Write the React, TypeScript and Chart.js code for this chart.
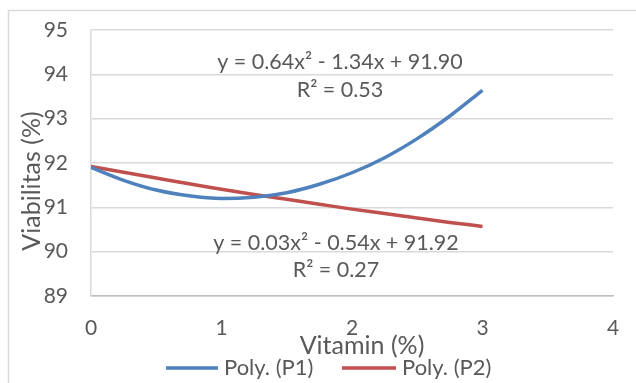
import React, { useEffect, useRef } from "react";
import { Chart, registerables } from "chart.js";

Chart.register(...registerables);

const xValues = [0, 0.25, 0.5, 0.75, 1, 1.25, 1.5, 1.75, 2, 2.25, 2.5, 2.75, 3];
const p1Values = [91.9, 91.61, 91.39, 91.26, 91.2, 91.23, 91.33, 91.52, 91.78, 92.12, 92.55, 93.06, 93.64];
const p2Values = [91.92, 91.79, 91.66, 91.53, 91.41, 91.29, 91.18, 91.07, 90.96, 90.86, 90.76, 90.66, 90.57];
const seriesNames = ["Poly. (P1)", "Poly. (P2)"];
const eq1 = ["y = 0.64x² - 1.34x + 91.90", "R² = 0.53"];
const eq2 = ["y = 0.03x² - 0.54x + 91.92", "R² = 0.27"];
const xTitle = "Vitamin (%)";
const yTitle = "Viabilitas (%)";

const FONT = "Lato, 'Open Sans', sans-serif";
const TEXT = "#595959";
const BLUE = "#4f81bd";
const RED = "#c0504d";

const overlay = {
  id: "overlay",
  afterDraw(chart: any) {
    const ctx = chart.ctx;
    ctx.save();
    ctx.strokeStyle = "#d9d9d9";
    ctx.lineWidth = 1.5;
    ctx.beginPath();
    ctx.moveTo(8.5, 383);
    ctx.lineTo(8.5, 10.5);
    ctx.lineTo(636, 10.5);
    ctx.stroke();

    ctx.fillStyle = TEXT;
    ctx.textAlign = "center";
    ctx.textBaseline = "middle";
    ctx.font = `21.5px ${FONT}`;
    ctx.fillText(eq1[0], 340, 62);
    ctx.fillText(eq1[1], 340, 90);
    ctx.fillText(eq2[0], 336, 243);
    ctx.fillText(eq2[1], 336, 270);

    ctx.font = `25px ${FONT}`;
    ctx.fillText(xTitle, 362, 346);
    ctx.save();
    ctx.translate(32, 181);
    ctx.rotate(-Math.PI / 2);
    ctx.fillText(yTitle, 0, 0);
    ctx.restore();

    ctx.font = `22px ${FONT}`;
    ctx.textAlign = "left";
    ctx.lineWidth = 3.5;
    ctx.strokeStyle = BLUE;
    ctx.beginPath();
    ctx.moveTo(166, 368);
    ctx.lineTo(218, 368);
    ctx.stroke();
    ctx.fillText(seriesNames[0], 224, 368);
    ctx.strokeStyle = RED;
    ctx.beginPath();
    ctx.moveTo(342, 368);
    ctx.lineTo(396, 368);
    ctx.stroke();
    ctx.fillText(seriesNames[1], 402, 368);
    ctx.restore();
  },
};

export default function App() {
  const ref = useRef<HTMLCanvasElement>(null);
  useEffect(() => {
    if (!ref.current) return;
    const chart = new Chart(ref.current, {
      type: "scatter",
      data: {
        datasets: [
          {
            label: seriesNames[0],
            data: xValues.map((x, i) => ({ x, y: p1Values[i] })),
            showLine: true,
            borderColor: BLUE,
            backgroundColor: BLUE,
            borderWidth: 3.5,
            pointRadius: 0,
            tension: 0.4,
            cubicInterpolationMode: "monotone",
          },
          {
            label: seriesNames[1],
            data: xValues.map((x, i) => ({ x, y: p2Values[i] })),
            showLine: true,
            borderColor: RED,
            backgroundColor: RED,
            borderWidth: 3.5,
            pointRadius: 0,
            tension: 0.4,
            cubicInterpolationMode: "monotone",
          },
        ],
      },
      options: {
        responsive: false,
        animation: false,
        layout: { padding: { left: 0, top: 30, right: 23, bottom: 0 } },
        plugins: { legend: { display: false }, tooltip: { enabled: false } },
        scales: {
          x: {
            type: "linear",
            min: 0,
            max: 4,
            afterFit(scale: any) {
              scale.height = 87;
              scale.paddingLeft = 0;
              scale.paddingRight = 0;
            },
            ticks: { stepSize: 1, color: TEXT, font: { family: FONT, size: 21 }, padding: 20 },
            grid: { display: false, drawTicks: false },
            border: { color: "#bfbfbf", width: 1.5 },
          },
          y: {
            min: 89,
            max: 95,
            afterFit(scale: any) {
              scale.width = 91;
              scale.paddingTop = 0;
              scale.paddingBottom = 0;
            },
            ticks: { stepSize: 1, color: TEXT, font: { family: FONT, size: 21 }, padding: 23 },
            grid: { color: "#d9d9d9", lineWidth: 1.5, drawTicks: false },
            border: { color: "#d9d9d9", width: 1.5 },
          },
        },
      },
      plugins: [overlay],
    });
    return () => chart.destroy();
  }, []);
  return (
    <div style={{ position: "fixed", left: 0, top: 0, width: 636, height: 383, background: "#fff" }}>
      <canvas ref={ref} width={636} height={383} style={{ display: "block" }} />
    </div>
  );
}
